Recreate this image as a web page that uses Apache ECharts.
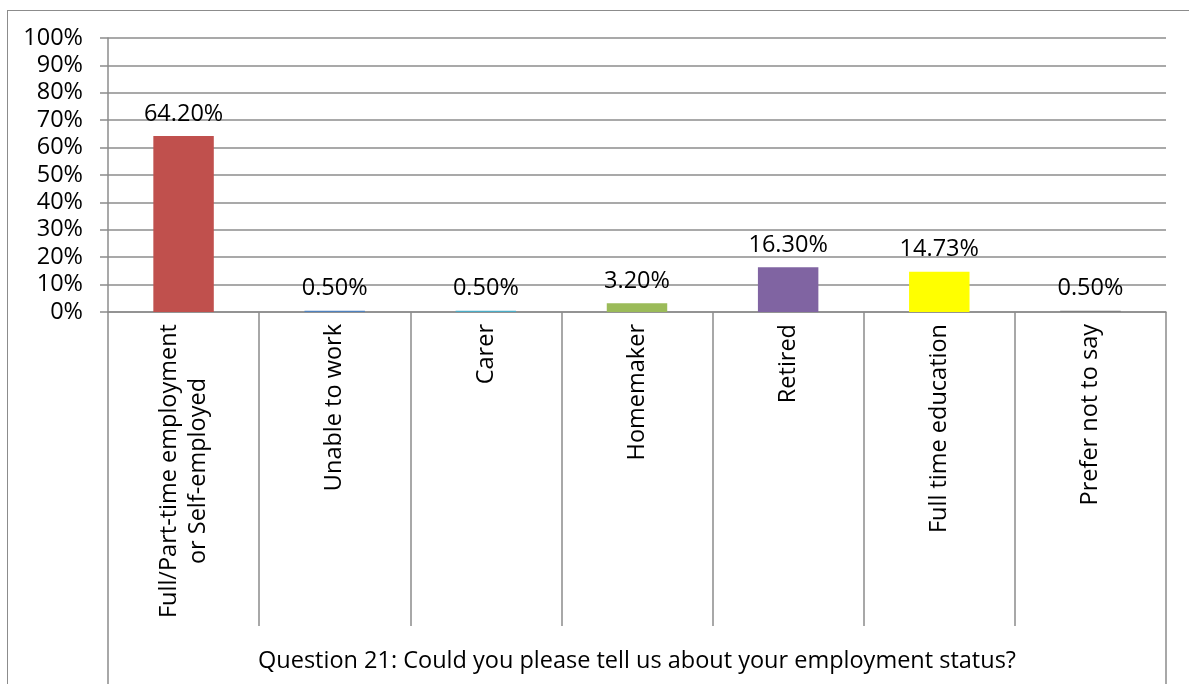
<!DOCTYPE html>
<html>
<head>
<meta charset="utf-8">
<script src="https://cdn.jsdelivr.net/npm/echarts@6/dist/echarts.min.js"></script>
<style>
  html, body { margin: 0; padding: 0; background: #fff; }
  #main { width: 1189px; height: 684px; }
  #frame { position: absolute; left: 7px; top: 10px; width: 1300px; height: 800px;
           border-left: 1.5px solid #8c8c8c; border-top: 1.5px solid #8c8c8c; pointer-events: none; }
</style>
</head>
<body>
<div id="main"></div>
<div id="frame"></div>
<script>
    const categories = ['Full/Part-time employment\nor Self-employed', 'Unable to work', 'Carer', 'Homemaker', 'Retired', 'Full time education', 'Prefer not to say'];
    const values = [64.20, 0.50, 0.50, 3.20, 16.30, 14.73, 0.50];
    const barColors = ['#C0504D', '#4F81BD', '#4BACC6', '#9BBB59', '#8064A2', '#FFFF00', '#7F7F7F'];
    const axisTitle = 'Question 21: Could you please tell us about your employment status?';

    const font = '"Open Sans", "Liberation Sans", sans-serif';
    const fs = 23.5;
    const lineColor = '#8c8c8c';

    const myChart = echarts.init(document.getElementById('main'), null, { renderer: 'canvas' });
    let option = {
        animation: false,
        grid: { left: 108, right: 23, top: 38, bottom: 372 },
        yAxis: {
            type: 'value',
            min: 0,
            max: 100,
            interval: 10,
            axisLine: { show: true, lineStyle: { color: lineColor, width: 1.5 } },
            axisTick: { show: true, length: 8, lineStyle: { color: lineColor, width: 1.5 } },
            splitLine: { lineStyle: { color: lineColor, width: 1.5 } },
            axisLabel: { formatter: '{value}%', fontFamily: font, fontSize: fs, color: '#000', margin: 25 }
        },
        xAxis: [
            {
                type: 'category',
                data: categories,
                name: axisTitle,
                nameLocation: 'middle',
                nameGap: 337,
                nameTextStyle: { fontFamily: font, fontSize: fs, color: '#000' },
                axisLine: { lineStyle: { color: lineColor, width: 1.5 } },
                axisTick: { show: true, length: 314, lineStyle: { color: lineColor, width: 1.5 } },
                axisLabel: {
                    rotate: 90,
                    interval: 0,
                    margin: 12,
                    formatter: v => v.split('\n').map(s => '{c|' + s + '}').join('\n'),
                    rich: { c: { fontFamily: font, fontSize: fs, color: '#000', align: 'center', lineHeight: 29 } }
                }
            },
            {
                type: 'category',
                data: [''],
                position: 'bottom',
                axisLine: { show: false },
                axisTick: { show: true, length: 372, lineStyle: { color: lineColor, width: 1.5 } },
                axisLabel: { show: false }
            }
        ],
        series: [
            {
                type: 'bar',
                xAxisIndex: 0,
                barWidth: '40%',
                data: values.map((v, i) => ({ value: v, itemStyle: { color: barColors[i] } })),
                label: {
                    show: true,
                    position: 'top',
                    distance: 10,
                    formatter: p => p.value.toFixed(2) + '%',
                    fontFamily: font,
                    fontSize: fs,
                    color: '#000'
                }
            }
        ]
    };
    option && myChart.setOption(option);
</script>
</body>
</html>
